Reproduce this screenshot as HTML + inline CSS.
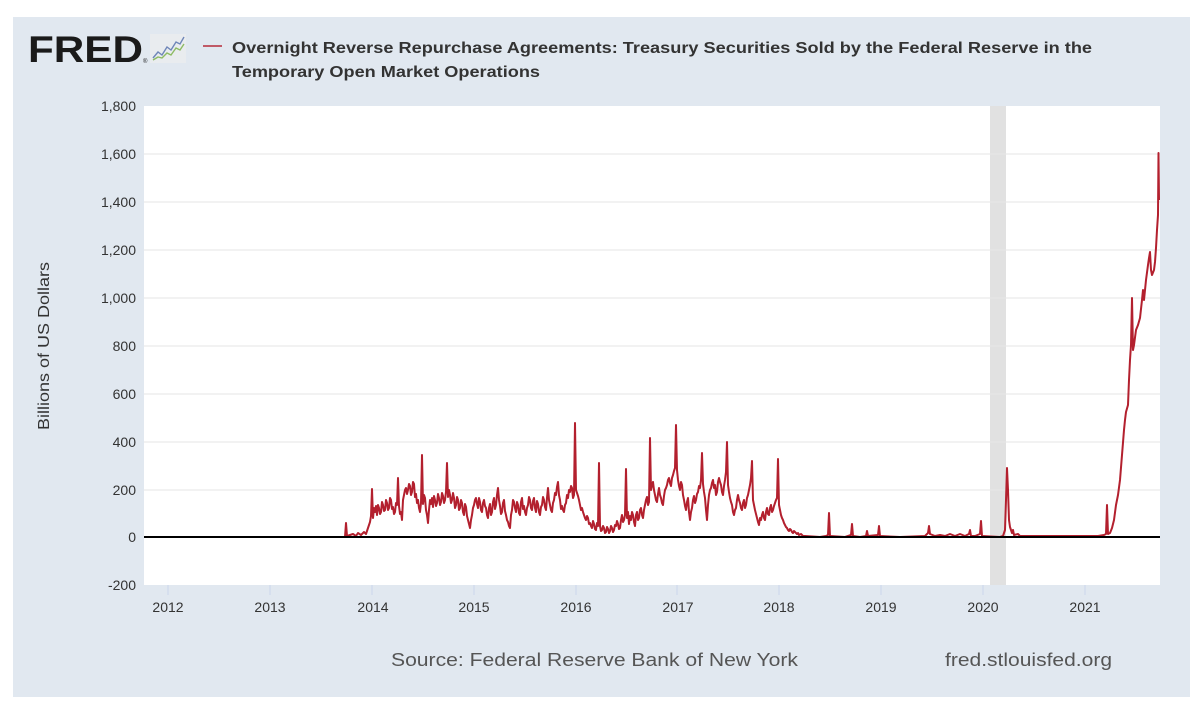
<!DOCTYPE html>
<html>
<head>
<meta charset="utf-8">
<style>
html,body{margin:0;padding:0;background:#ffffff;}
svg{display:block;}
text{font-family:"Liberation Sans",Arial,sans-serif;}
</style>
</head>
<body>
<svg width="1200" height="713" viewBox="0 0 1200 713" xmlns="http://www.w3.org/2000/svg">
  <rect x="0" y="0" width="1200" height="713" fill="#ffffff"/>
  <rect x="13" y="17" width="1177" height="680" fill="#e1e8f0"/>

  <!-- FRED logo -->
  <text x="28" y="62" font-size="37" font-weight="bold" fill="#1a1a1a" textLength="115" lengthAdjust="spacingAndGlyphs">FRED</text>
  <text x="143" y="63" font-size="6" fill="#1a1a1a">®</text>
  <rect x="150" y="34" width="36" height="29" fill="#e9ecef"/>
  <polyline points="153,58 158,52 162,55 167,47 171,50 176,42 180,44 184,37" fill="none" stroke="#6f86b8" stroke-width="1.4"/>
  <polyline points="153,60 158,57 162,58 167,53 171,55 176,48 180,50 184,44" fill="none" stroke="#8dbb63" stroke-width="1.4"/>

  <!-- legend line & title -->
  <line x1="203" y1="46" x2="222" y2="46" stroke="#c05a67" stroke-width="2"/>
  <text x="232" y="53" font-size="16" font-weight="bold" fill="#333333" textLength="860" lengthAdjust="spacingAndGlyphs">Overnight Reverse Repurchase Agreements: Treasury Securities Sold by the Federal Reserve in the</text>
  <text x="232" y="77" font-size="16" font-weight="bold" fill="#333333" textLength="308" lengthAdjust="spacingAndGlyphs">Temporary Open Market Operations</text>

  <!-- plot area -->
  <rect x="144" y="106" width="1016" height="479" fill="#ffffff"/>
  <!-- recession band -->
  <rect x="990" y="106" width="16" height="479" fill="#e1e1e1"/>

  <!-- gridlines -->
  <g stroke="#e6e6e6" stroke-width="1">
    <line x1="144" y1="154" x2="1160" y2="154"/>
    <line x1="144" y1="202" x2="1160" y2="202"/>
    <line x1="144" y1="250" x2="1160" y2="250"/>
    <line x1="144" y1="298" x2="1160" y2="298"/>
    <line x1="144" y1="346" x2="1160" y2="346"/>
    <line x1="144" y1="394" x2="1160" y2="394"/>
    <line x1="144" y1="442" x2="1160" y2="442"/>
    <line x1="144" y1="490" x2="1160" y2="490"/>
  </g>

  <!-- x ticks -->
  <g stroke="#ccd6eb" stroke-width="1">
    <line x1="168" y1="585" x2="168" y2="595"/>
    <line x1="270" y1="585" x2="270" y2="595"/>
    <line x1="372" y1="585" x2="372" y2="595"/>
    <line x1="474" y1="585" x2="474" y2="595"/>
    <line x1="576" y1="585" x2="576" y2="595"/>
    <line x1="677" y1="585" x2="677" y2="595"/>
    <line x1="779" y1="585" x2="779" y2="595"/>
    <line x1="881" y1="585" x2="881" y2="595"/>
    <line x1="983" y1="585" x2="983" y2="595"/>
    <line x1="1085" y1="585" x2="1085" y2="595"/>
  </g>

  <!-- y labels -->
  <g font-size="14" fill="#333333" text-anchor="end">
    <text x="136" y="111">1,800</text>
    <text x="136" y="159">1,600</text>
    <text x="136" y="207">1,400</text>
    <text x="136" y="255">1,200</text>
    <text x="136" y="303">1,000</text>
    <text x="136" y="351">800</text>
    <text x="136" y="399">600</text>
    <text x="136" y="447">400</text>
    <text x="136" y="495">200</text>
    <text x="136" y="542">0</text>
    <text x="136" y="590">-200</text>
  </g>

  <!-- x labels -->
  <g font-size="14" fill="#333333" text-anchor="middle">
    <text x="168" y="612">2012</text>
    <text x="270" y="612">2013</text>
    <text x="373" y="612">2014</text>
    <text x="474" y="612">2015</text>
    <text x="576" y="612">2016</text>
    <text x="678" y="612">2017</text>
    <text x="779" y="612">2018</text>
    <text x="881" y="612">2019</text>
    <text x="983" y="612">2020</text>
    <text x="1085" y="612">2021</text>
  </g>

  <!-- y axis title -->
  <text x="0" y="0" font-size="16" fill="#333333" text-anchor="middle" textLength="168" lengthAdjust="spacingAndGlyphs" transform="translate(49,346) rotate(-90)">Billions of US Dollars</text>

  <!-- series -->
  <polyline fill="none" stroke="#b3202e" stroke-width="2" stroke-linejoin="round" points="
345,537 346,523 347,536 350,535 353,534 356,536 358,533 361,535 364,532 366,534 368,528 370,522 371,516 372,489 373,518 374,508 375,512 376,506 377,515 378,505 379,508 380,514 381,512 382,502 383,505 384,511 385,510 386,500 387,503 388,510 389,508 390,498 391,500 392,509 393,507 394,514 395,512 396,503 397,505 398,478 399,506 400,514 401,512 402,520 403,500 404,495 405,490 406,488 407,494 408,490 409,484 410,486 411,495 412,492 413,482 414,484 415,497 416,494 417,503 418,500 419,508 420,512 421,503 422,455 423,504 424,495 425,498 426,510 427,515 428,523 429,510 430,500 431,504 432,498 433,507 434,496 435,500 436,506 437,503 438,494 439,498 440,505 441,502 442,493 443,496 444,503 445,500 446,492 447,463 448,497 449,490 450,495 451,503 452,500 453,493 454,498 455,508 456,505 457,497 458,500 459,510 460,508 461,500 462,503 463,512 464,515 465,504 466,507 467,516 468,520 469,524 470,528 471,520 472,515 473,508 474,505 475,500 476,498 477,504 478,508 479,498 480,502 481,510 482,512 483,503 484,500 485,506 486,508 487,515 488,518 489,508 490,504 491,515 492,512 493,502 494,498 495,509 496,505 497,495 498,488 499,500 500,506 501,514 502,512 503,503 504,500 505,511 506,515 507,520 508,522 509,526 510,528 511,515 512,510 513,500 514,502 515,508 516,512 517,502 518,505 519,513 520,515 521,502 522,498 523,509 524,506 525,512 526,515 527,508 528,505 529,497 530,500 531,508 532,510 533,501 534,498 535,508 536,512 537,501 538,504 539,512 540,515 541,507 542,505 543,497 544,500 545,507 546,510 547,498 548,488 549,500 550,505 551,510 552,512 553,503 554,500 555,493 556,495 557,487 558,482 559,495 560,500 561,509 562,506 563,510 564,512 565,505 566,503 567,495 568,498 569,490 570,492 571,486 572,488 573,498 574,495 575,423 576,490 577,493 578,496 579,500 580,505 581,510 582,508 583,512 584,515 585,518 586,520 587,516 588,518 589,524 590,523 591,526 592,528 593,521 594,524 595,529 596,530 597,523 598,526 599,463 600,526 601,531 602,530 603,526 604,528 605,533 606,532 607,527 608,529 609,533 610,531 611,526 612,528 613,532 614,530 615,525 616,526 617,521 618,524 619,529 620,528 621,520 622,515 623,522 624,520 625,515 626,469 627,518 628,512 629,524 630,516 631,520 632,512 633,515 634,522 635,526 636,515 637,512 638,520 639,518 640,510 641,508 642,515 643,518 644,510 645,505 646,500 647,497 648,505 649,502 650,438 651,490 652,485 653,482 654,490 655,495 656,500 657,502 658,494 659,488 660,495 661,498 662,503 663,505 664,496 665,490 666,488 667,485 668,480 669,478 670,483 671,486 672,478 673,475 674,471 675,468 676,425 677,470 678,480 679,486 680,490 681,482 682,485 683,495 684,500 685,506 686,510 687,502 688,498 689,512 690,520 691,512 692,508 693,500 694,496 695,503 696,500 697,494 698,492 699,486 700,488 701,480 702,453 703,484 704,492 705,498 706,510 707,520 708,505 709,495 710,490 711,488 712,483 713,480 714,488 715,485 716,495 717,492 718,482 719,478 720,482 721,485 722,492 723,495 724,486 725,480 726,472 727,442 728,485 729,492 730,498 731,502 732,505 733,512 734,515 735,510 736,508 737,500 738,495 739,500 740,503 741,508 742,510 743,503 744,500 745,508 746,505 747,498 748,495 749,490 750,485 751,478 752,461 753,500 754,505 755,510 756,514 757,518 758,522 759,525 760,518 761,520 762,515 763,512 764,518 765,520 766,512 767,508 768,514 769,515 770,508 771,505 772,512 773,510 774,506 775,503 776,500 777,498 778,459 779,505 780,510 781,515 782,518 783,520 784,523 785,525 786,527 787,528 788,530 789,531 790,529 791,530 792,532 793,533 794,531 795,532 796,533 797,534 798,533 799,535 801,534 803,536
805,536 820,537 826,536 828,535 829,513 830,536 845,537 851,535 852,524 853,536 860,537 866,536 867,531 868,536 878,535 879,526 880,536 900,537 925,536 928,533 929,526 930,534 935,536 940,535 945,536 950,534 955,536 960,534 965,536 969,534 970,530 971,536 975,536 980,534 981,521 982,536 1000,537 1003,536 1005,530 1006,500 1007,468 1008,490 1009,520 1010,527 1012,533 1013,530 1014,535 1018,534 1020,536
1098,536 1104,535 1106,534 1107,505 1108,534 1110,533 1112,528 1114,520 1116,505 1118,495 1120,480 1122,455 1124,430 1125,420 1126,412 1128,405 1129,380 1130,360 1131,345 1132,298 1133,350 1134,345 1136,330 1138,325 1140,318 1142,300 1143,290 1144,300 1146,280 1148,265 1149,258 1150,252 1151,270 1152,275 1154,270 1155,262 1156,248 1157,230 1158,215 1158.5,153 1159,200"/>

  <!-- zero line -->
  <line x1="144" y1="537" x2="1160" y2="537" stroke="#000000" stroke-width="2"/>

  <!-- footer -->
  <text x="391" y="666" font-size="18" fill="#555555" textLength="407" lengthAdjust="spacingAndGlyphs">Source: Federal Reserve Bank of New York</text>
  <text x="945" y="666" font-size="18" fill="#555555" textLength="167" lengthAdjust="spacingAndGlyphs">fred.stlouisfed.org</text>
</svg>
</body>
</html>
